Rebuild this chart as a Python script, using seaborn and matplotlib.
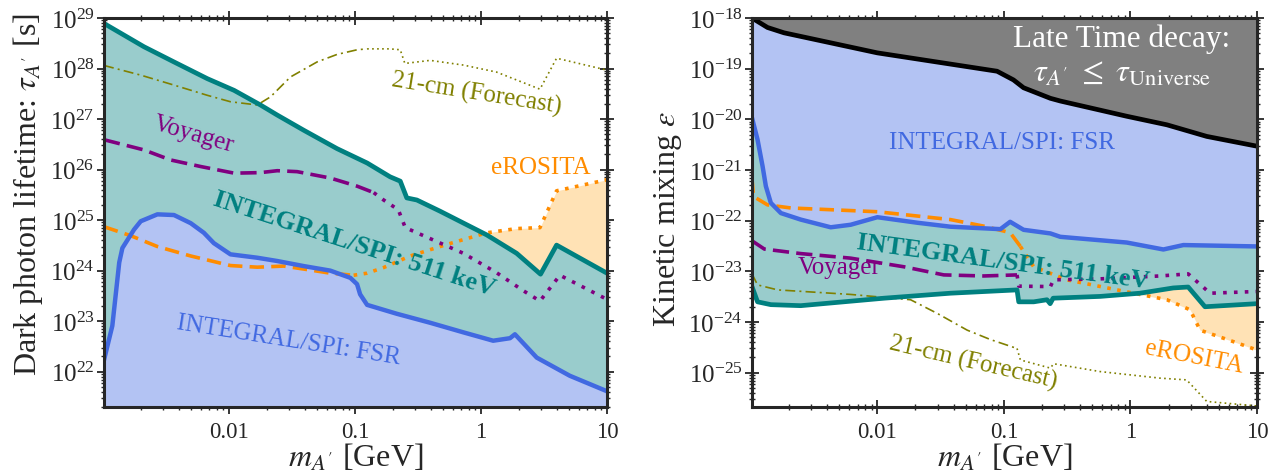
import numpy as np
import matplotlib
matplotlib.use("Agg")
import matplotlib.pyplot as plt
import seaborn as sns
from matplotlib.ticker import LogLocator, FixedLocator, FixedFormatter, NullFormatter, LogFormatterSciNotation

# ---------------- data: left panel (lifetime) ----------------
MMIN, MMAX = 1.022e-3, 10.0
TAU_MIN, TAU_MAX = 2.0e21, 1.0e29
EPS_MIN, EPS_MAX = 2.1e-26, 1.0e-18

teal_m = [1.022e-3, 2.12e-3, 3.67e-3, 6.75e-3, 0.011, 0.0178, 0.0242, 0.0393, 0.0721,
          0.125, 0.19, 0.229, 0.258, 0.31, 0.474, 1.11, 1.92, 2.97, 3.98, 10.0]
teal_tau = [7.8e28, 2.7e28, 1.35e28, 6.3e27, 3.7e27, 1.9e27, 1.2e27, 6.0e26, 2.6e26,
            1.35e26, 7.2e25, 5.9e25, 2.75e25, 2.5e25, 1.5e25, 5.1e24, 2.2e24, 8.5e23, 3.2e24, 8.9e23]

fsr_m = [1.022e-3, 1.19e-3, 1.35e-3, 1.43e-3, 1.77e-3, 2.0e-3, 2.71e-3, 3.67e-3, 4.98e-3,
         6.34e-3, 7.6e-3, 0.0103, 0.0168, 0.0242, 0.0393, 0.0638, 0.092, 0.104, 0.110,
         0.125, 0.215, 0.395, 0.726, 1.25, 1.70, 1.86, 2.77, 5.07, 10.0]
fsr_tau = [1.7e22, 8.1e22, 1.45e24, 2.8e24, 6.5e24, 9.5e24, 1.3e25, 1.26e25, 8.7e24,
           5.6e24, 3.5e24, 2.1e24, 1.8e24, 1.55e24, 1.23e24, 1.0e24, 7.2e23, 5.4e23, 3.4e23,
           2.1e23, 1.4e23, 9.3e22, 6.0e22, 4.1e22, 4.6e22, 5.5e22, 1.9e22, 8.3e21, 4.1e21]

voy_dash_m = [1.022e-3, 2.12e-3, 3.45e-3, 5.97e-3, 0.011, 0.0178, 0.0242, 0.0348, 0.0638, 0.104, 0.141]
voy_dash_tau = [3.9e26, 2.45e26, 1.55e26, 1.15e26, 8.5e25, 8.7e25, 9.5e25, 9.1e25, 6.8e25, 4.7e25, 3.5e25]
voy_dot_m = [0.141, 0.169, 0.221, 0.251, 0.726, 1.33, 2.17, 2.94, 4.23, 10.0]
voy_dot_tau = [3.5e25, 2.5e25, 1.6e25, 7.1e24, 2.2e24, 9.1e23, 4.0e23, 2.5e23, 8.1e23, 2.7e23]

ero_dash_m = [1.022e-3, 1.67e-3, 2.71e-3, 4.98e-3, 0.0103, 0.0168, 0.0272, 0.0418, 0.0638, 0.0977]
ero_dash_tau = [7.4e24, 4.9e24, 3.0e24, 1.95e24, 1.26e24, 1.17e24, 1.23e24, 1.05e24, 8.9e23, 8.1e23]
ero_dot_m = [0.0977, 0.125, 0.169, 0.275, 0.536, 1.11, 1.92, 2.94, 3.98, 10.0]
ero_dot_tau = [8.1e23, 8.9e23, 1.15e24, 1.95e24, 3.3e24, 5.6e24, 6.8e24, 7.1e24, 3.8e25, 6.3e25]

cm_dd_m = [1.022e-3, 2.0e-3, 3.67e-3, 6.75e-3, 0.0103, 0.0168, 0.0214, 0.0308, 0.0501, 0.0721, 0.104, 0.125]
cm_dd_tau = [1.15e28, 7.4e27, 4.7e27, 2.95e27, 2.2e27, 1.9e27, 2.75e27, 6.8e27, 1.35e28, 1.9e28, 2.35e28, 2.45e28]
cm_dot_m = [0.125, 0.19, 0.229, 0.249, 0.395, 0.726, 1.33, 2.94, 3.98, 10.0]
cm_dot_tau = [2.45e28, 2.45e28, 2.35e28, 1.26e28, 1.45e28, 1.17e28, 8.5e27, 3.9e27, 1.6e28, 9.3e27]

# ---------------- data: right panel (kinetic mixing) ----------------
late_m = [1.022e-3, 1.355e-3, 1.83e-3, 0.01, 0.0883, 0.119, 0.143, 0.233, 0.279, 0.935, 1.94, 4.01, 10.0]
late_eps = [1.0e-18, 6.5e-19, 5.1e-19, 2.05e-19, 8.9e-20, 6.0e-20, 4.2e-20, 2.6e-20, 2.3e-20,
            1.15e-20, 7.8e-21, 4.6e-21, 2.95e-21]

fsr2_m = [1.022e-3, 1.13e-3, 1.24e-3, 1.315e-3, 1.44e-3, 1.73e-3, 2.48e-3, 4.28e-3, 6.15e-3, 0.01,
          0.0207, 0.0378, 0.0938, 0.112, 0.143, 0.233, 0.279, 0.935, 1.82, 2.62, 10.0]
fsr2_eps = [1.07e-20, 4.0e-21, 1.17e-21, 4.8e-22, 2.24e-22, 1.41e-22, 1.05e-22, 7.4e-23, 8.3e-23, 1.17e-22,
            9.1e-23, 7.6e-23, 6.8e-23, 9.5e-23, 6.6e-23, 5.6e-23, 4.8e-23, 3.7e-23, 2.7e-23, 3.3e-23, 3.1e-23]

teal2_m = [1.022e-3, 1.13e-3, 1.44e-3, 2.48e-3, 0.0113, 0.0378, 0.127, 0.131, 0.172, 0.219, 0.232,
           0.245, 0.577, 1.19, 2.18, 2.86, 3.88, 10.0]
teal2_eps = [5.0e-24, 2.5e-24, 2.2e-24, 2.1e-24, 2.95e-24, 3.7e-24, 4.3e-24, 2.5e-24, 2.5e-24, 2.75e-24,
             2.3e-24, 2.95e-24, 3.2e-24, 3.7e-24, 4.7e-24, 4.9e-24, 2.0e-24, 2.3e-24]

voy2_dash_m = [1.022e-3, 1.28e-3, 2.48e-3, 6.15e-3, 0.0162, 0.0335, 0.0693, 0.127]
voy2_dash_eps = [4.0e-23, 2.75e-23, 2.24e-23, 1.82e-23, 1.23e-23, 8.5e-24, 8.1e-24, 8.5e-24]
voy2_dot_m = [0.127, 0.131, 0.233, 0.247, 0.577, 1.71, 2.86, 4.26, 10.0]
voy2_dot_eps = [8.5e-24, 5.1e-24, 5.0e-24, 6.8e-24, 7.1e-24, 8.1e-24, 8.9e-24, 3.7e-24, 4.0e-24]

ero2_dash_m = [1.022e-3, 1.05e-3, 1.355e-3, 2.07e-3, 0.01, 0.0378, 0.0693, 0.112, 0.135]
ero2_dash_eps = [6.8e-22, 3.0e-22, 2.05e-22, 1.78e-22, 1.5e-22, 1.05e-22, 7.8e-23, 5.8e-23, 3.1e-23]
ero2_dot_m = [0.135, 0.172, 0.315, 1.06, 1.94, 2.96, 3.55, 6.5, 10.0]
ero2_dot_eps = [3.1e-23, 1.23e-23, 6.8e-24, 3.7e-24, 2.75e-24, 1.74e-24, 6.9e-25, 4.1e-25, 2.8e-25]

cm2_dd_m = [1.022e-3, 1.13e-3, 1.63e-3, 6.15e-3, 0.0183, 0.0297, 0.0513, 0.0783, 0.127]
cm2_dd_eps = [8.9e-24, 5.4e-24, 4.3e-24, 3.5e-24, 2.75e-24, 1.48e-24, 6.9e-25, 4.5e-25, 3.0e-25]
cm2_dot_m = [0.127, 0.135, 0.233, 0.247, 0.577, 1.71, 2.78, 4.01, 10.0]
cm2_dot_eps = [3.0e-25, 1.78e-25, 1.23e-25, 1.5e-25, 1.05e-25, 7.8e-26, 7.2e-26, 2.7e-26, 2.2e-26]

xtick_vals = [0.01, 0.1, 1, 10]
xtick_labels = ["0.01", "0.1", "1", "10"]
ytick_left = [1e22, 1e23, 1e24, 1e25, 1e26, 1e27, 1e28, 1e29]
ytick_right = [1e-25, 1e-24, 1e-23, 1e-22, 1e-21, 1e-20, 1e-19, 1e-18]

# ---------------- colours ----------------
TEAL, TEAL_F = "#008080", "#99CCCC"
BLUE, BLUE_F = "#4169E1", "#B3C3F3"
PURPLE = "#800080"
ORANGE, ORANGE_F = "#FF8C00", "#FFE2B5"
OLIVE = "#808000"

sns.set_style("ticks")
plt.rcParams["font.family"] = ["Liberation Serif", "DejaVu Serif"]
plt.rcParams["mathtext.fontset"] = "stix"

fig = plt.figure(figsize=(12.75, 4.77), dpi=100)
W, H = 1275.0, 477.0
ax1 = fig.add_axes([104 / W, 69 / H, 503 / W, 389 / H])
ax2 = fig.add_axes([752 / W, 69 / H, 505 / W, 389 / H])


def line(ax, x, y, color, lw, ls="-", z=5):
    sns.lineplot(x=np.array(x), y=np.array(y), ax=ax, color=color, lw=lw, ls=ls,
                 sort=False, estimator=None, zorder=z)


def style_axes(ax, ylo, yhi, yticks):
    ax.set_xscale("log")
    ax.set_yscale("log")
    ax.set_xlim(MMIN, MMAX)
    ax.set_ylim(ylo, yhi)
    ax.xaxis.set_major_locator(FixedLocator(xtick_vals))
    ax.xaxis.set_major_formatter(FixedFormatter(xtick_labels))
    ax.xaxis.set_minor_locator(LogLocator(base=10, subs=np.arange(2, 10), numticks=30))
    ax.xaxis.set_minor_formatter(NullFormatter())
    ax.yaxis.set_major_locator(FixedLocator(yticks))
    ax.yaxis.set_major_formatter(LogFormatterSciNotation())
    ax.yaxis.set_minor_locator(LogLocator(base=10, subs=np.arange(2, 10), numticks=30))
    ax.yaxis.set_minor_formatter(NullFormatter())
    ax.tick_params(which="both", direction="inout", top=True, right=True)
    ax.tick_params(axis="x", labelsize=16.5, pad=5)
    ax.tick_params(axis="y", labelsize=18, pad=2)
    ax.tick_params(which="major", length=9.5, width=1.3)
    ax.tick_params(which="minor", length=5, width=1.0)
    for s in ax.spines.values():
        s.set_linewidth(2.2)
        s.set_zorder(20)
    ax.set_xlabel(r"$m_{A'}$ [GeV]", fontsize=23)
    ax.xaxis.set_label_coords(0.5, -0.088)


# ---------------- left panel ----------------
bot = 1e20
ax1.fill_between(ero_dot_m, ero_dot_tau, bot, color=ORANGE_F, lw=0, zorder=1)
ax1.fill_between(teal_m, teal_tau, bot, color=TEAL_F, lw=0, zorder=2)
ax1.fill_between(fsr_m, fsr_tau, bot, color=BLUE_F, lw=0, zorder=3)

line(ax1, cm_dd_m, cm_dd_tau, OLIVE, 1.2, (0, (6, 2.5, 1.2, 2.5)))
line(ax1, cm_dot_m, cm_dot_tau, OLIVE, 1.2, (0, (1, 2)))
line(ax1, ero_dash_m, ero_dash_tau, ORANGE, 2.6, (0, (4, 2)))
line(ax1, ero_dot_m, ero_dot_tau, ORANGE, 2.6, (0, (1, 1.8)))
line(ax1, voy_dash_m, voy_dash_tau, PURPLE, 2.6, (0, (4.5, 2)))
line(ax1, voy_dot_m, voy_dot_tau, PURPLE, 2.6, (0, (1, 2)))
line(ax1, fsr_m, fsr_tau, BLUE, 3.2)
line(ax1, teal_m, teal_tau, TEAL, 3.4, z=6)

style_axes(ax1, TAU_MIN, TAU_MAX, ytick_left)
ax1.set_ylabel(r"Dark photon lifetime: $\tau_{A'}$ [s]", fontsize=23)
ax1.yaxis.set_label_coords(-0.118, 0.548)

kw = dict(transform=ax1.transAxes, ha="center", va="center", rotation_mode="anchor", zorder=10)
ax1.text(0.741, 0.807, "21-cm (Forecast)", color=OLIVE, fontsize=18, rotation=-9, **kw)
ax1.text(0.179, 0.703, "Voyager", color=PURPLE, fontsize=18, rotation=-16, **kw)
ax1.text(0.869, 0.617, "eROSITA", color=ORANGE, fontsize=18, rotation=0, **kw)
ax1.text(0.497, 0.421, "INTEGRAL/SPI: 511 keV", color=TEAL, fontsize=19, fontweight="bold",
         rotation=-18, **kw)
ax1.text(0.366, 0.172, "INTEGRAL/SPI: FSR", color=BLUE, fontsize=18, rotation=-9, **kw)

# ---------------- right panel ----------------
top = 1e-16
ax2.fill_between(ero2_dot_m, ero2_dot_eps, top, color=ORANGE_F, lw=0, zorder=1)
ax2.fill_between(teal2_m, teal2_eps, top, color=TEAL_F, lw=0, zorder=2)
ax2.fill_between(fsr2_m, fsr2_eps, top, color=BLUE_F, lw=0, zorder=3)
ax2.fill_between(late_m, late_eps, top, color="#808080", lw=0, zorder=4)

line(ax2, cm2_dd_m, cm2_dd_eps, OLIVE, 1.2, (0, (6, 2.5, 1.2, 2.5)))
line(ax2, cm2_dot_m, cm2_dot_eps, OLIVE, 1.2, (0, (1, 2)))
line(ax2, ero2_dash_m, ero2_dash_eps, ORANGE, 2.6, (0, (4, 2)))
line(ax2, ero2_dot_m, ero2_dot_eps, ORANGE, 2.6, (0, (1, 1.8)))
line(ax2, voy2_dash_m, voy2_dash_eps, PURPLE, 2.6, (0, (4.5, 2)))
line(ax2, voy2_dot_m, voy2_dot_eps, PURPLE, 2.6, (0, (1, 2)))
line(ax2, teal2_m, teal2_eps, TEAL, 3.4)
line(ax2, fsr2_m, fsr2_eps, BLUE, 3.2, z=6)
line(ax2, late_m, late_eps, "black", 3.4, z=7)

style_axes(ax2, EPS_MIN, EPS_MAX, ytick_right)
ax2.set_ylabel(r"Kinetic mixing $\epsilon$", fontsize=23)
ax2.yaxis.set_label_coords(-0.135, 0.487)

kw2 = dict(transform=ax2.transAxes, ha="center", va="center", rotation_mode="anchor", zorder=10)
ax2.text(0.731, 0.929, "Late Time decay:", color="white", fontsize=22.5, ha="center",
         va="baseline", transform=ax2.transAxes, zorder=10)
ax2.text(0.733, 0.839, r"$\tau_{A'}\ \leq\ \tau_{\mathrm{Universe}}$", color="white", fontsize=23,
         ha="center", va="baseline", transform=ax2.transAxes, zorder=10)
ax2.text(0.496, 0.681, "INTEGRAL/SPI: FSR", color=BLUE, fontsize=18, rotation=0, **kw2)
ax2.text(0.496, 0.375, "INTEGRAL/SPI: 511 keV", color=TEAL, fontsize=19, fontweight="bold",
         rotation=-7.7, **kw2)
ax2.text(0.172, 0.360, "Voyager", color=PURPLE, fontsize=18, rotation=0, **kw2)
ax2.text(0.439, 0.115, "21-cm (Forecast)", color=OLIVE, fontsize=18, rotation=-13, **kw2)
ax2.text(0.876, 0.129, "eROSITA", color=ORANGE, fontsize=18, rotation=-11, **kw2)

fig.savefig("out.png", dpi=100)
